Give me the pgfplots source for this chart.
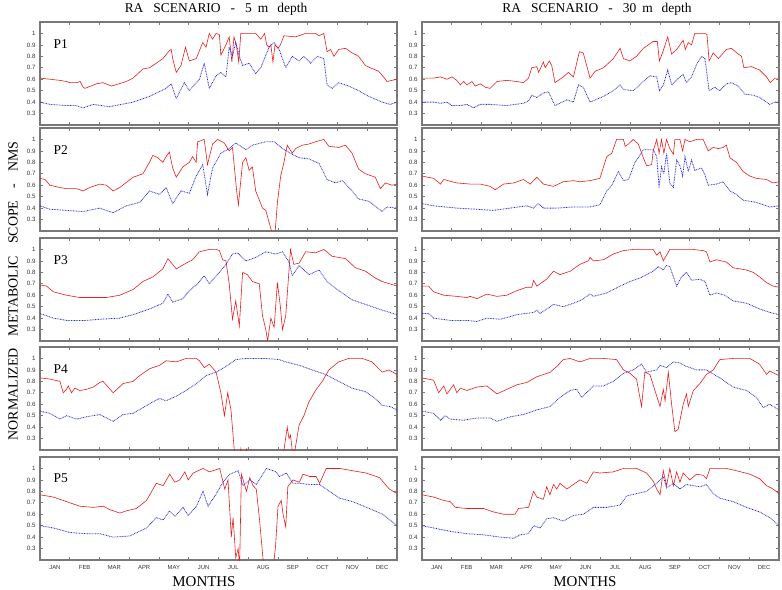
\documentclass[border=0pt]{standalone}
\usepackage{fontspec}
\setmainfont{Liberation Serif}
\newfontfamily\tickfont{Liberation Sans}
\usepackage{pgfplots}
\pgfplotsset{compat=1.18}

\definecolor{nmsred}{RGB}{232,30,30}
\definecolor{nmsblue}{RGB}{40,40,225}
\definecolor{framegray}{RGB}{120,120,120}

\tikzset{plabel/.style={font=\fontsize{13.5}{15}\selectfont}}

\pgfplotsset{
  panel/.style={
    scale only axis, width=357bp, height=103bp, anchor=north west,
    xmin=0, xmax=12, ymin=0.2, ymax=1.1,
    axis line style={framegray, line width=1.4bp},
    xtick={1,2,...,11}, xticklabels={},
    ytick={0.3,0.4,0.5,0.6,0.7,0.8,0.9,1},
    tick align=inside, major tick length=3bp,
    tick style={framegray, line width=0.6bp},
    /pgf/number format/assume math mode=true,
    yticklabel style={font=\tickfont\fontsize{6.2}{7}\selectfont, text=black!80, xshift=-1bp},
  },
  bottom/.style={
    extra x ticks={0.5,1.5,...,11.5},
    extra x tick labels={JAN,FEB,MAR,APR,MAY,JUN,JUL,AUG,SEP,OCT,NOV,DEC},
    extra x tick style={tick style={draw=none},
      tick label style={font=\tickfont\fontsize{5.9}{7}\selectfont, text=black!80, yshift=-1.5bp}},
  },
  redline/.style={nmsred, line width=0.6bp, mark=none},
  blueline/.style={nmsblue, line width=0.8bp, dash pattern=on 0.8bp off 0.8bp, mark=none},
}

\begin{document}
\begin{tikzpicture}
\path[use as bounding box] (0,0) rectangle (782bp,-590bp);

% ---------- 5 m depth ----------
\begin{axis}[panel, at={(40bp,-22bp)}]
\addplot[redline] coordinates {(0,0.61)(0.33,0.60)(0.67,0.59)(0.89,0.58)(1.0,0.57)(1.23,0.57)(1.35,0.58)(1.45,0.53)(1.51,0.52)(1.9,0.56)(2.12,0.57)(2.4,0.54)(2.9,0.58)(3.13,0.61)(3.46,0.69)(3.68,0.70)(3.91,0.74)(4.13,0.78)(4.35,0.85)(4.41,0.86)(4.46,0.78)(4.58,0.66)(4.74,0.72)(4.89,0.88)(5.02,0.76)(5.25,0.78)(5.47,0.92)(5.58,0.88)(5.69,1.0)(5.80,0.95)(5.92,1.0)(6.03,0.99)(6.08,0.81)(6.25,0.90)(6.36,0.97)(6.45,0.75)(6.52,0.97)(6.60,0.90)(6.68,0.75)(6.75,1.0)(7.25,1.0)(7.42,0.95)(7.55,1.0)(7.62,0.90)(7.70,0.88)(7.76,0.90)(7.83,0.75)(7.90,0.90)(8.0,0.87)(8.08,0.90)(8.2,0.98)(8.59,0.97)(8.93,1.0)(9.26,1.0)(9.38,0.98)(9.54,1.0)(9.65,0.84)(9.77,0.86)(9.88,0.80)(10.04,0.86)(10.27,0.87)(10.49,0.83)(10.71,0.80)(10.94,0.72)(11.10,0.70)(11.38,0.67)(11.61,0.60)(11.66,0.58)(12,0.60)};
\addplot[blueline] coordinates {(0,0.40)(0.33,0.38)(0.89,0.37)(1.2,0.37)(1.45,0.35)(1.79,0.38)(2.34,0.36)(3.13,0.40)(3.68,0.45)(4.24,0.52)(4.41,0.56)(4.58,0.43)(4.85,0.57)(5.02,0.50)(5.36,0.60)(5.52,0.74)(5.69,0.52)(5.92,0.63)(6.08,0.66)(6.25,0.62)(6.36,0.88)(6.47,0.80)(6.58,0.92)(6.70,0.80)(6.81,0.72)(7.03,0.74)(7.25,0.65)(7.42,0.70)(7.70,0.88)(7.87,0.92)(8.04,0.86)(8.26,0.70)(8.48,0.80)(8.71,0.76)(8.87,0.80)(9.10,0.74)(9.32,0.80)(9.54,0.78)(9.65,0.55)(9.82,0.52)(10.04,0.57)(10.38,0.54)(10.71,0.50)(11.05,0.45)(11.50,0.40)(11.77,0.38)(12,0.40)};
\node[plabel] at (rel axis cs:0.058,0.79) {P1};
\end{axis}

\begin{axis}[panel, at={(40bp,-128bp)}]
\addplot[redline] coordinates {(0,0.66)(0.17,0.65)(0.33,0.60)(0.67,0.58)(0.89,0.57)(1.23,0.57)(1.45,0.55)(1.67,0.58)(2.01,0.61)(2.23,0.60)(2.46,0.55)(2.68,0.58)(3.13,0.67)(3.46,0.70)(3.68,0.80)(3.79,0.86)(3.96,0.84)(4.13,0.80)(4.24,0.85)(4.35,0.89)(4.46,0.75)(4.58,0.67)(4.80,0.76)(5.02,0.80)(5.13,0.85)(5.25,0.80)(5.30,0.98)(5.52,1.0)(5.63,0.78)(5.80,0.96)(5.97,1.0)(6.19,0.97)(6.36,0.90)(6.47,0.93)(6.61,0.55)(6.67,0.43)(6.81,0.80)(6.92,0.84)(7.03,0.73)(7.14,0.76)(7.25,0.55)(7.48,0.40)(7.59,0.38)(7.76,0.22)(7.83,0.15)(7.90,0.18)(7.98,0.45)(8.09,0.68)(8.20,0.80)(8.31,0.95)(8.48,0.88)(8.59,0.92)(8.82,0.95)(9.04,0.96)(9.26,0.98)(9.54,1.0)(9.71,0.94)(10.04,0.93)(10.27,0.95)(10.49,0.88)(10.71,0.74)(10.94,0.70)(11.27,0.67)(11.44,0.57)(11.61,0.62)(11.83,0.60)(12,0.61)};
\addplot[blueline] coordinates {(0,0.42)(0.33,0.39)(0.89,0.38)(1.45,0.37)(2.01,0.40)(2.46,0.36)(2.90,0.42)(3.35,0.45)(3.68,0.55)(4.02,0.52)(4.24,0.58)(4.46,0.44)(4.74,0.55)(5.02,0.53)(5.25,0.68)(5.47,0.78)(5.63,0.52)(5.80,0.75)(6.08,0.88)(6.36,0.92)(6.58,0.97)(6.92,0.91)(7.14,0.95)(7.59,0.98)(7.87,0.98)(8.15,0.92)(8.48,0.87)(8.71,0.84)(9.04,0.83)(9.38,0.79)(9.65,0.65)(9.93,0.62)(10.16,0.64)(10.49,0.55)(10.71,0.48)(11.05,0.46)(11.50,0.37)(11.66,0.41)(12,0.40)};
\node[plabel] at (rel axis cs:0.058,0.79) {P2};
\end{axis}

\begin{axis}[panel, at={(40bp,-238bp)}]
\addplot[redline] coordinates {(0,0.69)(0.22,0.68)(0.45,0.63)(0.89,0.60)(1.34,0.58)(1.79,0.58)(2.01,0.58)(2.23,0.58)(2.68,0.60)(3.13,0.65)(3.46,0.72)(3.79,0.76)(4.13,0.83)(4.30,0.92)(4.58,0.83)(4.91,0.88)(5.13,0.91)(5.36,0.98)(5.69,1.0)(5.92,1.0)(6.03,0.99)(6.14,0.91)(6.25,0.90)(6.36,0.70)(6.47,0.39)(6.58,0.55)(6.70,0.33)(6.81,0.80)(6.97,0.78)(7.14,0.72)(7.37,0.70)(7.48,0.42)(7.59,0.30)(7.65,0.20)(7.76,0.40)(7.87,0.32)(7.98,0.71)(8.08,0.50)(8.15,0.30)(8.26,0.42)(8.42,1.0)(8.53,0.87)(8.71,0.88)(8.93,0.98)(9.26,0.97)(9.54,1.0)(9.82,0.94)(10.27,0.92)(10.60,0.84)(10.94,0.81)(11.27,0.75)(11.50,0.72)(12,0.68)};
\addplot[blueline] coordinates {(0,0.44)(0.45,0.40)(0.89,0.38)(1.56,0.38)(2.01,0.39)(2.68,0.40)(3.13,0.43)(3.68,0.48)(4.13,0.53)(4.30,0.61)(4.46,0.54)(4.80,0.57)(5.02,0.64)(5.30,0.70)(5.52,0.77)(5.69,0.70)(6.03,0.80)(6.25,0.87)(6.47,0.96)(6.64,0.97)(6.92,0.90)(7.25,0.93)(7.59,0.98)(7.92,0.96)(8.15,0.98)(8.37,0.89)(8.48,0.77)(8.71,0.86)(9.04,0.78)(9.38,0.82)(9.65,0.72)(10.04,0.64)(10.49,0.56)(10.94,0.52)(11.50,0.47)(12,0.43)};
\node[plabel] at (rel axis cs:0.058,0.79) {P3};
\end{axis}

\begin{axis}[panel, at={(40bp,-347bp)}]
\addplot[redline] coordinates {(0,0.83)(0.33,0.82)(0.67,0.80)(0.78,0.70)(0.89,0.73)(0.95,0.76)(1.06,0.70)(1.17,0.74)(1.34,0.72)(1.56,0.73)(1.79,0.75)(2.01,0.79)(2.12,0.80)(2.46,0.70)(2.79,0.78)(3.13,0.80)(3.35,0.85)(3.68,0.91)(4.02,0.94)(4.24,0.98)(4.58,0.97)(4.91,1.0)(5.25,1.0)(5.36,0.98)(5.52,0.92)(5.69,0.95)(5.92,0.88)(6.08,0.70)(6.20,0.50)(6.31,0.70)(6.42,0.55)(6.53,0.20)(6.60,0.10)(6.70,0.10)(6.75,0.21)(6.80,0.12)(6.95,0.21)(7.0,0.10)(8.1,0.10)(8.20,0.20)(8.31,0.40)(8.37,0.30)(8.42,0.33)(8.50,0.15)(8.57,0.20)(8.71,0.42)(8.87,0.50)(9.04,0.62)(9.26,0.72)(9.49,0.80)(9.71,0.90)(10.04,0.97)(10.38,1.0)(10.83,1.0)(11.16,0.97)(11.50,0.88)(11.72,0.90)(12,0.86)};
\addplot[blueline] coordinates {(0,0.54)(0.33,0.52)(0.67,0.47)(0.89,0.50)(1.23,0.47)(1.56,0.49)(2.01,0.51)(2.46,0.45)(2.79,0.51)(3.13,0.52)(3.46,0.57)(3.79,0.62)(4.02,0.65)(4.24,0.63)(4.58,0.67)(4.91,0.72)(5.25,0.78)(5.58,0.85)(5.92,0.88)(6.25,0.93)(6.58,0.99)(6.92,1.0)(7.59,1.0)(8.04,0.99)(8.26,0.97)(8.71,0.94)(9.15,0.90)(9.60,0.86)(10.04,0.80)(10.49,0.74)(10.94,0.71)(11.27,0.65)(11.50,0.59)(11.77,0.58)(12,0.55)};
\node[plabel] at (rel axis cs:0.058,0.79) {P4};
\end{axis}

\begin{axis}[panel, bottom, at={(40bp,-457bp)}]
\addplot[redline] coordinates {(0,0.77)(0.45,0.75)(0.89,0.71)(1.34,0.67)(1.79,0.66)(2.13,0.67)(2.35,0.64)(2.68,0.61)(2.91,0.63)(3.24,0.65)(3.58,0.72)(3.91,0.87)(4.14,0.85)(4.36,0.95)(4.53,0.88)(4.70,0.90)(4.87,0.97)(4.98,0.90)(5.15,0.96)(5.48,1.0)(5.70,0.97)(6.04,1.0)(6.21,0.82)(6.32,0.90)(6.43,0.40)(6.49,0.57)(6.58,0.22)(6.66,0.30)(6.71,0.15)(6.77,0.95)(6.94,0.80)(7.05,0.92)(7.16,0.85)(7.27,0.82)(7.38,0.55)(7.50,0.20)(7.55,0.10)(7.83,0.10)(7.92,0.33)(8.0,0.67)(8.11,0.72)(8.17,0.60)(8.26,0.49)(8.33,0.84)(8.50,0.90)(8.72,0.88)(8.84,0.95)(9.06,0.93)(9.28,0.93)(9.40,0.87)(9.62,1.0)(10.07,1.0)(10.51,0.98)(10.96,0.96)(11.41,0.92)(11.74,0.82)(12,0.78)};
\addplot[blueline] coordinates {(0,0.50)(0.45,0.48)(1.01,0.44)(1.57,0.43)(2.01,0.43)(2.46,0.40)(3.02,0.41)(3.58,0.48)(3.91,0.57)(4.14,0.55)(4.36,0.63)(4.53,0.58)(4.81,0.66)(4.98,0.59)(5.26,0.67)(5.48,0.80)(5.65,0.67)(5.93,0.78)(6.15,0.88)(6.38,0.95)(6.66,0.98)(6.82,0.85)(7.05,0.90)(7.27,0.86)(7.61,1.0)(7.94,0.97)(8.05,0.93)(8.28,0.96)(8.50,0.87)(8.72,0.87)(9.06,0.86)(9.40,0.86)(9.73,0.80)(10.07,0.74)(10.51,0.71)(11.07,0.65)(11.52,0.60)(12,0.50)};
\node[plabel] at (rel axis cs:0.058,0.79) {P5};
\end{axis}

% ---------- 30 m depth ----------
\begin{axis}[panel, at={(422bp,-22bp)}]
\addplot[redline] coordinates {(0,0.61)(0.39,0.61)(0.62,0.62)(0.84,0.60)(1.01,0.62)(1.17,0.59)(1.29,0.55)(1.40,0.58)(1.51,0.55)(1.68,0.58)(1.79,0.54)(1.96,0.56)(2.13,0.53)(2.29,0.52)(2.52,0.58)(2.85,0.59)(3.19,0.58)(3.41,0.57)(3.58,0.61)(3.69,0.70)(3.86,0.71)(3.92,0.66)(4.08,0.75)(4.14,0.70)(4.28,0.76)(4.36,0.72)(4.47,0.57)(4.75,0.62)(4.92,0.66)(5.09,0.62)(5.29,0.84)(5.42,0.83)(5.65,0.61)(5.82,0.67)(6.10,0.70)(6.43,0.78)(6.66,0.87)(6.77,0.78)(6.99,0.76)(7.21,0.80)(7.44,0.87)(7.77,0.93)(7.91,0.93)(7.98,0.76)(8.11,0.85)(8.26,0.97)(8.39,0.82)(8.56,0.86)(8.78,0.94)(8.85,0.86)(8.95,0.92)(9.06,0.90)(9.17,1.0)(9.51,1.0)(9.58,0.99)(9.65,0.76)(9.79,0.83)(9.96,0.78)(10.23,0.86)(10.40,0.87)(10.63,0.82)(10.74,0.80)(10.82,0.70)(11.07,0.71)(11.35,0.68)(11.58,0.62)(11.71,0.57)(11.86,0.61)(12,0.61)};
\addplot[blueline] coordinates {(0,0.40)(0.39,0.40)(0.62,0.39)(0.84,0.40)(1.0,0.37)(1.29,0.37)(1.51,0.38)(1.73,0.35)(1.96,0.38)(2.29,0.38)(2.85,0.37)(3.41,0.39)(3.58,0.41)(3.69,0.46)(3.86,0.44)(4.08,0.48)(4.25,0.49)(4.47,0.37)(4.87,0.42)(5.09,0.40)(5.26,0.55)(5.42,0.53)(5.65,0.40)(6.10,0.45)(6.43,0.50)(6.66,0.55)(6.77,0.51)(7.10,0.50)(7.44,0.58)(7.66,0.63)(7.89,0.62)(7.98,0.50)(8.11,0.55)(8.26,0.68)(8.39,0.55)(8.67,0.62)(8.78,0.64)(8.89,0.57)(9.06,0.62)(9.23,0.73)(9.40,0.80)(9.51,0.78)(9.65,0.50)(9.84,0.53)(10.01,0.50)(10.23,0.56)(10.40,0.57)(10.63,0.54)(10.85,0.47)(11.13,0.46)(11.35,0.44)(11.69,0.38)(11.86,0.40)(12,0.40)};
\end{axis}

\begin{axis}[panel, at={(422bp,-128bp)}]
\addplot[redline] coordinates {(0,0.68)(0.39,0.66)(0.62,0.61)(0.73,0.65)(1.17,0.62)(1.62,0.61)(1.96,0.61)(2.29,0.59)(2.46,0.56)(2.74,0.61)(3.08,0.62)(3.41,0.65)(3.64,0.61)(3.86,0.67)(4.08,0.61)(4.42,0.59)(4.75,0.63)(5.09,0.64)(5.31,0.63)(5.65,0.64)(5.98,0.66)(6.21,0.85)(6.38,0.88)(6.54,1.0)(6.77,1.0)(6.83,0.94)(6.94,0.96)(7.10,1.0)(7.27,0.96)(7.44,0.84)(7.55,0.77)(7.72,0.78)(7.77,0.90)(7.89,1.0)(7.97,0.88)(8.05,1.0)(8.13,0.88)(8.22,1.0)(8.33,0.92)(8.45,0.87)(8.50,1.0)(8.67,1.0)(8.76,0.90)(8.84,1.0)(9.0,0.98)(9.23,1.0)(9.45,1.0)(9.62,0.90)(9.79,0.93)(9.96,0.92)(10.12,0.93)(10.23,0.95)(10.35,0.84)(10.57,0.80)(10.79,0.72)(11.02,0.68)(11.24,0.66)(11.58,0.65)(11.80,0.62)(12,0.63)};
\addplot[blueline] coordinates {(0,0.44)(0.39,0.42)(1.17,0.40)(1.85,0.39)(2.40,0.38)(2.96,0.40)(3.52,0.42)(3.75,0.40)(3.91,0.44)(4.08,0.40)(4.53,0.40)(5.09,0.41)(5.65,0.41)(5.98,0.43)(6.21,0.55)(6.38,0.60)(6.60,0.72)(6.77,0.64)(6.94,0.65)(7.16,0.80)(7.27,0.84)(7.44,0.91)(7.77,0.91)(7.89,0.85)(7.97,0.58)(8.05,0.76)(8.13,0.70)(8.22,0.88)(8.33,0.62)(8.45,0.58)(8.56,0.82)(8.67,0.77)(8.76,0.68)(8.84,0.85)(8.95,0.72)(9.06,0.82)(9.17,0.73)(9.40,0.75)(9.51,0.69)(9.62,0.60)(9.90,0.61)(10.12,0.63)(10.35,0.55)(10.57,0.52)(10.79,0.47)(11.24,0.45)(11.69,0.41)(12,0.42)};
\end{axis}

\begin{axis}[panel, at={(422bp,-238bp)}]
\addplot[redline] coordinates {(0,0.68)(0.22,0.68)(0.39,0.63)(0.73,0.60)(1.17,0.59)(1.51,0.58)(1.62,0.59)(1.85,0.57)(2.18,0.61)(2.52,0.59)(2.85,0.60)(3.19,0.64)(3.52,0.67)(3.69,0.67)(3.75,0.73)(3.86,0.68)(4.19,0.74)(4.42,0.81)(4.64,0.78)(4.98,0.81)(5.31,0.87)(5.59,0.90)(5.65,0.93)(5.76,0.90)(6.10,0.91)(6.43,0.96)(6.77,0.99)(7.10,1.0)(7.77,1.0)(7.89,0.95)(8.0,0.98)(8.11,0.90)(8.22,0.95)(8.33,1.0)(9.12,1.0)(9.45,0.99)(9.56,0.98)(9.68,0.89)(9.90,0.91)(10.23,0.89)(10.46,0.84)(10.91,0.82)(11.13,0.80)(11.35,0.76)(11.58,0.71)(11.80,0.68)(12,0.67)};
\addplot[blueline] coordinates {(0,0.44)(0.22,0.44)(0.39,0.40)(0.95,0.38)(1.51,0.38)(1.85,0.37)(2.18,0.40)(2.63,0.39)(3.19,0.43)(3.75,0.45)(3.86,0.47)(3.97,0.44)(4.42,0.52)(4.75,0.50)(5.09,0.53)(5.37,0.56)(5.65,0.61)(5.76,0.59)(6.21,0.62)(6.66,0.68)(6.99,0.72)(7.33,0.75)(7.77,0.81)(7.94,0.85)(8.11,0.82)(8.22,0.86)(8.33,0.85)(8.56,0.68)(8.72,0.76)(8.89,0.80)(9.06,0.73)(9.34,0.74)(9.51,0.72)(9.68,0.60)(9.90,0.62)(10.18,0.60)(10.46,0.55)(10.91,0.53)(11.35,0.48)(11.69,0.45)(12,0.43)};
\end{axis}

\begin{axis}[panel, at={(422bp,-347bp)}]
\addplot[redline] coordinates {(0,0.83)(0.39,0.81)(0.56,0.70)(0.73,0.76)(0.84,0.69)(1.06,0.77)(1.17,0.70)(1.29,0.74)(1.51,0.72)(1.85,0.75)(2.18,0.76)(2.52,0.69)(2.85,0.73)(3.19,0.77)(3.52,0.79)(3.86,0.84)(4.31,0.88)(4.53,0.93)(4.75,0.99)(4.98,1.0)(5.31,0.97)(5.65,1.0)(6.10,1.0)(6.54,0.99)(6.77,0.90)(6.99,0.87)(7.21,0.82)(7.38,0.58)(7.49,0.88)(7.66,0.86)(7.83,0.72)(8.0,0.58)(8.11,0.73)(8.17,0.63)(8.28,0.88)(8.39,0.60)(8.50,0.36)(8.61,0.38)(8.78,0.60)(8.89,0.69)(8.95,0.58)(9.12,0.72)(9.34,0.78)(9.56,0.86)(9.79,0.90)(10.01,0.99)(10.46,1.0)(11.02,1.0)(11.35,0.95)(11.58,0.86)(11.69,0.89)(12,0.85)};
\addplot[blueline] coordinates {(0,0.54)(0.39,0.52)(0.62,0.46)(0.78,0.50)(0.95,0.47)(1.40,0.46)(1.85,0.48)(2.29,0.48)(2.52,0.45)(2.96,0.49)(3.41,0.51)(3.86,0.55)(4.31,0.58)(4.64,0.66)(4.98,0.72)(5.20,0.73)(5.37,0.66)(5.76,0.76)(6.10,0.76)(6.43,0.80)(6.77,0.87)(7.10,0.90)(7.38,0.95)(7.55,0.88)(7.89,0.90)(8.0,0.94)(8.22,0.92)(8.45,0.97)(8.67,0.96)(8.89,0.93)(9.23,0.90)(9.56,0.90)(10.01,0.83)(10.46,0.75)(10.91,0.72)(11.24,0.66)(11.47,0.57)(11.69,0.60)(12,0.55)};
\end{axis}

\begin{axis}[panel, bottom, at={(422bp,-457bp)}]
\addplot[redline] coordinates {(0,0.77)(0.39,0.75)(0.73,0.72)(0.95,0.71)(1.12,0.66)(1.51,0.65)(2.07,0.65)(2.40,0.62)(2.74,0.60)(3.13,0.60)(3.24,0.65)(3.58,0.66)(3.75,0.80)(3.86,0.75)(4.08,0.73)(4.19,0.84)(4.30,0.77)(4.42,0.86)(4.53,0.82)(4.64,0.87)(4.87,0.82)(5.09,0.86)(5.31,0.90)(5.54,0.87)(5.76,0.97)(5.98,0.96)(6.43,0.97)(6.77,1.0)(7.21,1.0)(7.55,0.96)(7.77,0.89)(7.89,0.82)(8.0,0.77)(8.11,0.98)(8.22,0.85)(8.33,1.0)(8.45,0.85)(8.56,0.97)(8.67,0.88)(8.78,0.96)(9.0,0.90)(9.23,0.95)(9.45,0.94)(9.56,0.91)(9.68,1.0)(10.23,1.0)(10.57,0.98)(11.02,0.95)(11.35,0.91)(11.58,0.85)(11.80,0.82)(12,0.78)};
\addplot[blueline] coordinates {(0,0.50)(0.39,0.48)(0.95,0.45)(1.51,0.43)(2.07,0.42)(2.63,0.40)(3.08,0.39)(3.30,0.42)(3.58,0.43)(3.75,0.50)(3.97,0.48)(4.19,0.56)(4.42,0.57)(4.75,0.54)(5.09,0.59)(5.43,0.60)(5.76,0.66)(6.21,0.66)(6.66,0.68)(6.88,0.76)(7.21,0.78)(7.55,0.80)(7.89,0.87)(8.11,0.93)(8.22,0.83)(8.45,0.87)(8.67,0.82)(8.89,0.86)(9.12,0.85)(9.34,0.84)(9.56,0.86)(9.79,0.78)(10.01,0.74)(10.46,0.71)(10.91,0.66)(11.35,0.62)(11.69,0.57)(12,0.50)};
\end{axis}

% ---------- titles and labels ----------
\node[font=\fontsize{13.5}{15}\selectfont] at (216bp,-9bp)
  {RA\hspace{10bp}SCENARIO\hspace{10bp}-\hspace{10bp}5\hspace{6bp}m\hspace{9bp}depth};
\node[font=\fontsize{13.5}{15}\selectfont] at (597bp,-9bp)
  {RA\hspace{10bp}SCENARIO\hspace{10bp}-\hspace{10bp}30\hspace{6bp}m\hspace{9bp}depth};
\node[rotate=90, font=\fontsize{14}{16}\selectfont] at (13bp,-291bp)
  {NORMALIZED\hspace{12bp}METABOLIC\hspace{12bp}SCOPE\hspace{12bp}-\hspace{12bp}NMS};
\node[font=\fontsize{15}{17}\selectfont] at (204bp,-582bp) {MONTHS};
\node[font=\fontsize{15}{17}\selectfont] at (585bp,-582bp) {MONTHS};
\end{tikzpicture}
\end{document}
